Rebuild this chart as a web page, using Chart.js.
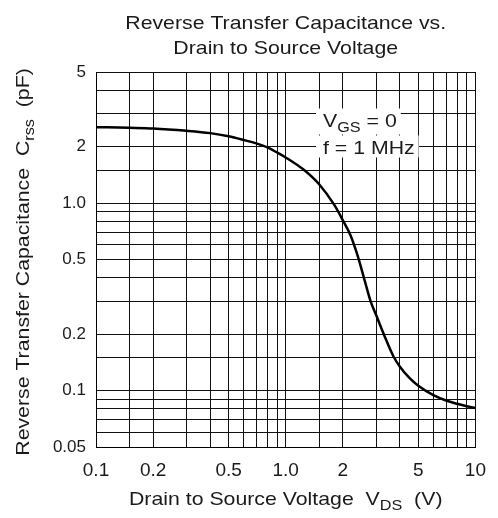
<!DOCTYPE html>
<html>
<head>
<meta charset="utf-8">
<script src="https://cdn.jsdelivr.net/npm/chart.js@4"></script>
<style>
html,body{margin:0;padding:0;background:#fff;}
#wrap{width:498px;height:518px;position:relative;}
</style>
</head>
<body>
<div id="wrap"><canvas id="c" width="498" height="518"></canvas></div>
<script>
// Data
const vds  = [0.1, 0.15, 0.2, 0.3, 0.4, 0.5, 0.6, 0.7, 0.8, 0.9, 1.0, 1.25, 1.5, 1.8, 2.0, 2.2, 2.4, 2.6, 2.8, 3.0, 3.3, 3.7, 4.0, 4.5, 5.0, 6, 7, 8, 9, 10];
const crss = [2.54, 2.52, 2.50, 2.43, 2.36, 2.27, 2.17, 2.08, 1.98, 1.86, 1.75, 1.50, 1.26, 0.98, 0.81, 0.67, 0.52, 0.39, 0.30, 0.252, 0.198, 0.152, 0.134, 0.1165, 0.106, 0.0945, 0.0885, 0.085, 0.0825, 0.0808];

const xGrid = [0.1, 0.15, 0.2, 0.3, 0.4, 0.5, 0.6, 0.7, 0.8, 0.9, 1, 1.5, 2, 3, 4, 5, 6, 7, 8, 9, 10];
const yGrid = [0.05, 0.06, 0.07, 0.08, 0.09, 0.1, 0.15, 0.2, 0.3, 0.4, 0.5, 0.6, 0.7, 0.8, 0.9, 1, 1.5, 2, 3, 4, 5];
const xTickValues = [0.1, 0.2, 0.5, 1, 2, 5, 10];
const xTickLabels = ['0.1', '0.2', '0.5', '1.0', '2', '5', '10'];
const yTickValues = [0.05, 0.1, 0.2, 0.5, 1, 2, 5];
const yTickLabels = ['0.05', '0.1', '0.2', '0.5', '1.0', '2', '5'];

const titleLines = ['Reverse Transfer Capacitance vs.', 'Drain to Source Voltage'];
const xTitle = [{t: 'Drain to Source Voltage  V'}, {t: 'DS', sub: true}, {t: '  (V)'}];
const yTitle = [{t: 'Reverse Transfer Capacitance  C'}, {t: 'rss', sub: true}, {t: '  (pF)'}];
const noteLines = [[{t: 'V'}, {t: 'GS', sub: true}, {t: ' = 0'}], [{t: 'f = 1 MHz'}]];

const FONT = '"Liberation Sans", Arial, Helvetica, sans-serif';
const TXT = '#1a1a1a';
const SIZE = 19, SUB = 14.5, SX = 1.12;
const AREA = {left: 96, right: 479, top: 72, bottom: 447};

function labelFor(values, labels, v) {
  const i = values.findIndex(t => Math.abs(t - v) < 1e-9);
  return i >= 0 ? labels[i] : '';
}

function richWidth(ctx, parts) {
  let w = 0;
  for (const p of parts) {
    ctx.font = (p.sub ? SUB : SIZE) + 'px ' + FONT;
    w += ctx.measureText(p.t).width;
  }
  return w * SX;
}
function drawRich(ctx, parts, x, y) {
  ctx.save();
  ctx.translate(x, y);
  ctx.scale(SX, 1);
  let cx = 0;
  for (const p of parts) {
    ctx.font = (p.sub ? SUB : SIZE) + 'px ' + FONT;
    ctx.fillText(p.t, cx, p.sub ? 5 : 0);
    cx += ctx.measureText(p.t).width;
  }
  ctx.restore();
}

const textPlugin = {
  id: 'texts',
  afterDatasetsDraw(chart) {
    const ctx = chart.ctx;
    const area = chart.chartArea;
    const cx = (area.left + area.right) / 2;
    ctx.save();
    ctx.fillStyle = TXT;
    ctx.textBaseline = 'alphabetic';
    ctx.textAlign = 'left';
    // Title
    titleLines.forEach((line, i) => {
      const parts = [{t: line}];
      const w = richWidth(ctx, parts);
      drawRich(ctx, parts, cx - w / 2, 28.5 + i * 25);
    });
    // X axis title
    const xw = richWidth(ctx, xTitle);
    drawRich(ctx, xTitle, cx - xw / 2, 505);
    // Y axis title
    ctx.save();
    ctx.translate(29, 262);
    ctx.rotate(-Math.PI / 2);
    const yw = richWidth(ctx, yTitle);
    drawRich(ctx, yTitle, -yw / 2, 0);
    ctx.restore();
    // Condition note with white background
    const nx = 323;
    const baselines = [126.5, 153.5];
    noteLines.forEach((parts, i) => {
      const w = richWidth(ctx, parts);
      ctx.fillStyle = '#fff';
      ctx.fillRect(nx - 7, baselines[i] - 18, w + 11, i === 0 ? 26 : 22);
    });
    ctx.fillStyle = TXT;
    noteLines.forEach((parts, i) => {
      drawRich(ctx, parts, nx, baselines[i]);
    });
    ctx.restore();
  }
};

const chart = new Chart(document.getElementById('c'), {
  type: 'line',
  data: {
    datasets: [{
      data: vds.map((v, i) => ({x: v, y: crss[i]})),
      borderColor: '#000',
      borderWidth: 2.5,
      pointRadius: 0,
      fill: false,
      cubicInterpolationMode: 'monotone'
    }]
  },
  options: {
    responsive: false,
    animation: false,
    devicePixelRatio: 1,
    layout: {padding: {top: 72, right: 19, left: 0, bottom: 0}},
    plugins: {legend: {display: false}, tooltip: {enabled: false}, title: {display: false}},
    scales: {
      x: {
        type: 'logarithmic',
        min: 0.1, max: 10,
        afterBuildTicks: s => { s.ticks = xGrid.map(v => ({value: v})); },
        afterFit: s => { s.height = 71; },
        grid: {color: '#111', lineWidth: 1, drawTicks: false},
        border: {color: '#000', width: 1},
        ticks: {
          autoSkip: false, maxRotation: 0, padding: 12,
          color: TXT, font: {size: 19, family: FONT},
          callback: v => labelFor(xTickValues, xTickLabels, v)
        }
      },
      y: {
        type: 'logarithmic',
        min: 0.05, max: 5,
        afterBuildTicks: s => { s.ticks = yGrid.map(v => ({value: v})); },
        afterFit: s => { s.width = 96; },
        grid: {color: '#111', lineWidth: 1, drawTicks: false},
        border: {color: '#000', width: 1},
        ticks: {
          autoSkip: false, padding: 10,
          color: TXT, font: {size: 17, family: FONT},
          callback: v => labelFor(yTickValues, yTickLabels, v)
        }
      }
    }
  },
  plugins: [textPlugin]
});

// Nudge layout padding so the plot area lands where the reference has it
for (let k = 0; k < 3; k++) {
  const ca = chart.chartArea;
  const p = chart.options.layout.padding;
  p.right += ca.right - AREA.right;
  p.left += AREA.left - ca.left;
  p.top += AREA.top - ca.top;
  p.bottom += ca.bottom - AREA.bottom;
  chart.update();
}
</script>
</body>
</html>
